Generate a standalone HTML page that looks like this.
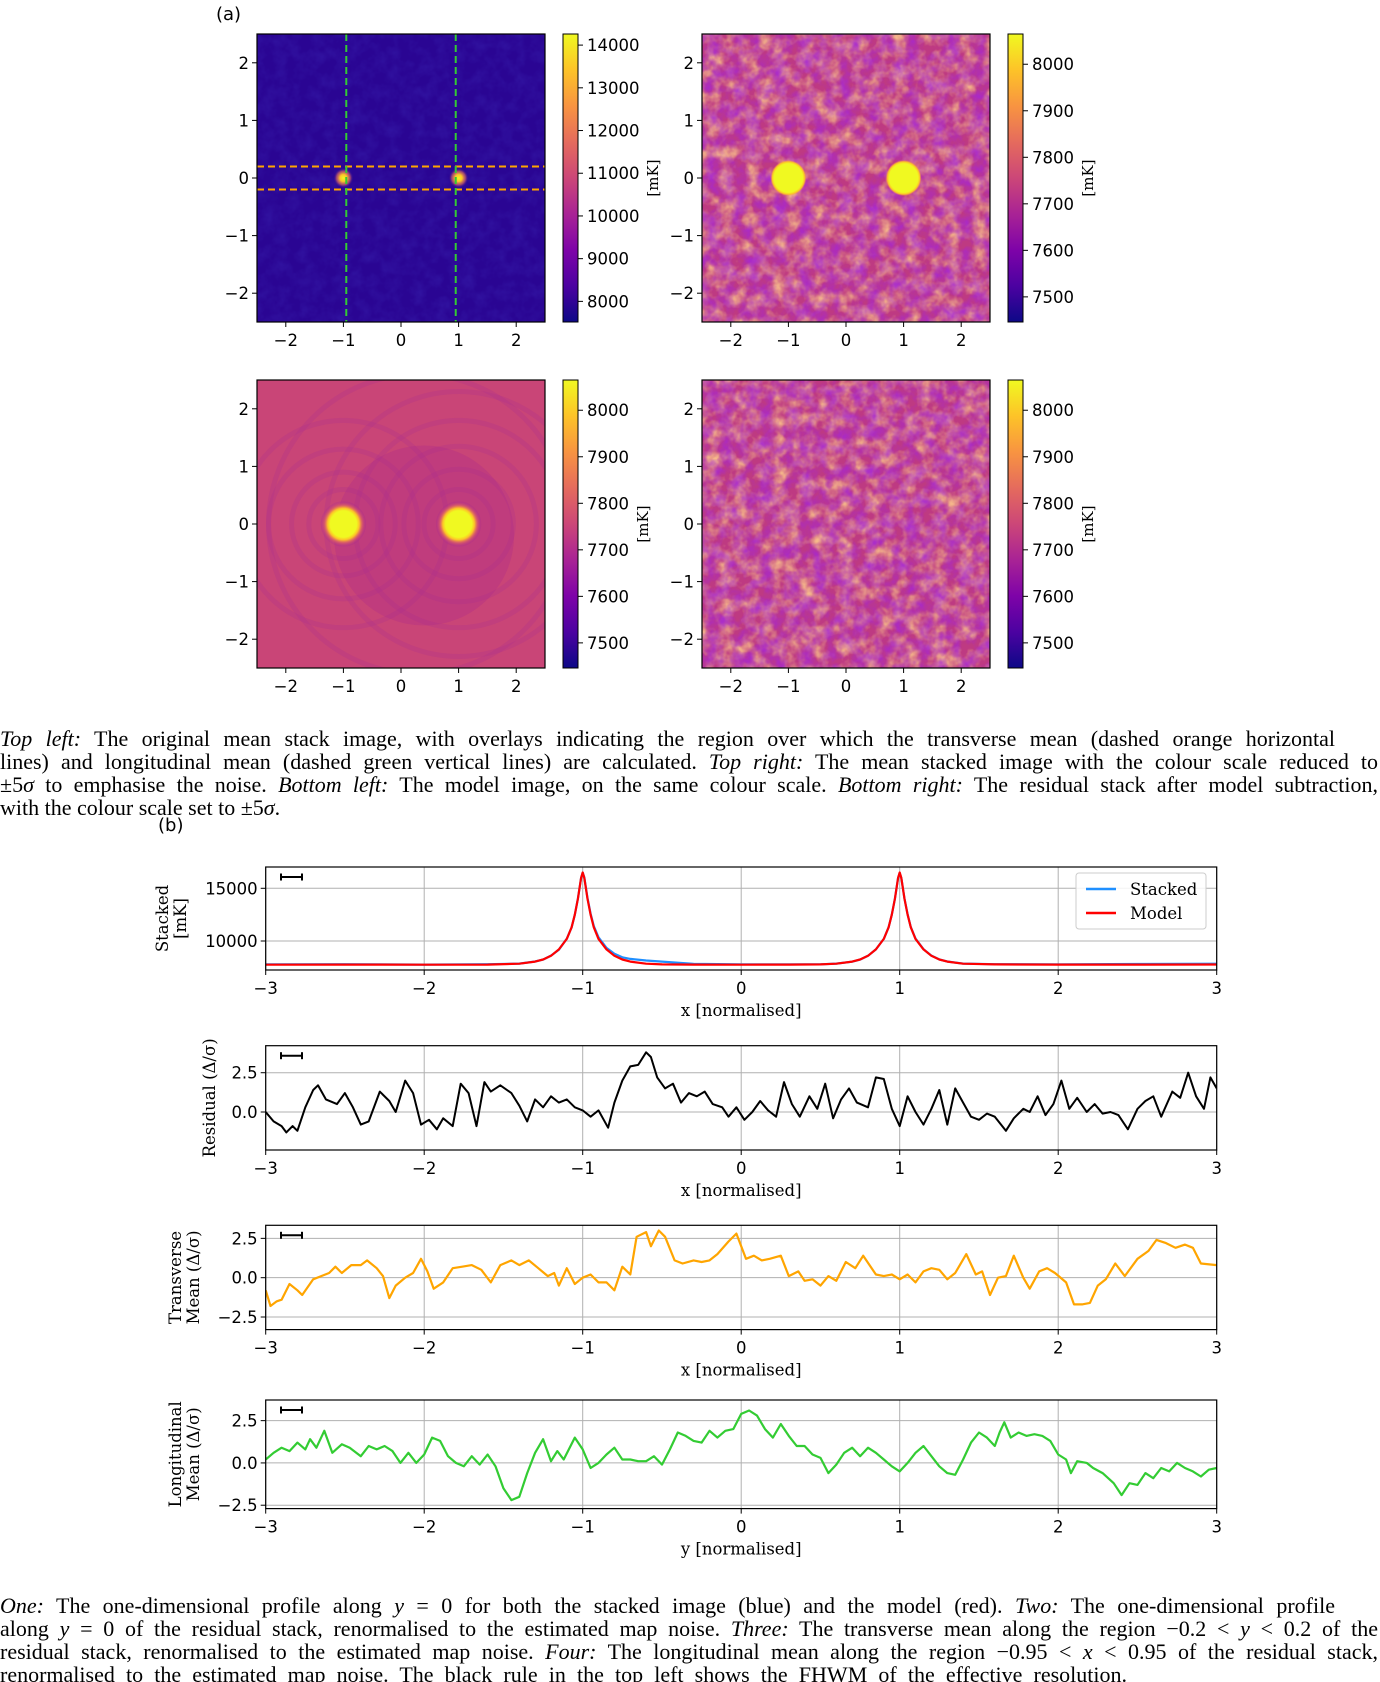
<!DOCTYPE html>
<html><head><meta charset="utf-8">
<style>
html,body{margin:0;padding:0;background:#fff;}
#wrap{position:relative;width:1380px;height:1682px;overflow:hidden;}
svg{position:absolute;left:0;top:0;}
.cap{position:absolute;left:0;width:1380px;font-family:"Liberation Serif",serif;font-size:22px;line-height:23px;color:#000;}
.ln{display:block;white-space:nowrap;height:23px;}
.ln span.inner{display:inline-block;white-space:nowrap;}
i{font-style:italic;}
</style></head>
<body>
<div id="wrap">
<svg id="fig" width="1380" height="1682" viewBox="0 0 1380 1682" xmlns="http://www.w3.org/2000/svg">
<defs>
<linearGradient id="plasma" x1="0" y1="1" x2="0" y2="0">
<stop offset="0" stop-color="#0d0887"/><stop offset="0.125" stop-color="#4c02a1"/><stop offset="0.25" stop-color="#7e03a8"/><stop offset="0.375" stop-color="#a92395"/><stop offset="0.5" stop-color="#cc4778"/><stop offset="0.625" stop-color="#e56b5d"/><stop offset="0.75" stop-color="#f89441"/><stop offset="0.875" stop-color="#fdc328"/><stop offset="1" stop-color="#f0f921"/>
</linearGradient>
<radialGradient id="spotSmall"><stop offset="0" stop-color="#f0f921"/><stop offset="0.35" stop-color="#fdc328"/><stop offset="0.7" stop-color="#e56b5d" stop-opacity="0.6"/><stop offset="1" stop-color="#2c0594" stop-opacity="0"/></radialGradient>
<radialGradient id="spotBig"><stop offset="0" stop-color="#f0f921"/><stop offset="0.8" stop-color="#f0f921"/><stop offset="0.9" stop-color="#fdc328"/><stop offset="1" stop-color="#f89441" stop-opacity="0"/></radialGradient>
<radialGradient id="spotModel"><stop offset="0" stop-color="#f0f921"/><stop offset="0.6" stop-color="#f0f921"/><stop offset="0.72" stop-color="#fdc328"/><stop offset="0.85" stop-color="#e56b5d" stop-opacity="0.7"/><stop offset="1" stop-color="#cc4778" stop-opacity="0"/></radialGradient>
<filter id="mottleDark" x="0" y="0" width="100%" height="100%">
<feTurbulence type="fractalNoise" baseFrequency="0.08" numOctaves="3" seed="4"/>
<feColorMatrix type="matrix" values="0 0 0 0 0.05  0 0 0 0 0.03  0 0 0 0 0.5  1.6 0 0 0 -0.55"/>
</filter>
<filter id="mottlePurple" x="0" y="0" width="100%" height="100%">
<feTurbulence type="fractalNoise" baseFrequency="0.075" numOctaves="3" seed="4"/>
<feColorMatrix type="matrix" values="0 0 0 0 0.38  0 0 0 0 0.02  0 0 0 0 0.66  1.9 0 0 0 -0.65"/>
</filter>
<filter id="mottleOrange" x="0" y="0" width="100%" height="100%">
<feTurbulence type="fractalNoise" baseFrequency="0.075" numOctaves="3" seed="11"/>
<feColorMatrix type="matrix" values="0 0 0 0 0.98  0 0 0 0 0.58  0 0 0 0 0.26  0 1.9 0 0 -0.65"/>
</filter>
</defs>
</svg>

<div class="cap" style="top:727px">
<span class="ln" data-w="1335"><span class="inner"><i>Top left:</i> The original mean stack image, with overlays indicating the region over which the transverse mean (dashed orange horizontal</span></span>
<span class="ln" data-w="1378"><span class="inner">lines) and longitudinal mean (dashed green vertical lines) are calculated. <i>Top right:</i> The mean stacked image with the colour scale reduced to</span></span>
<span class="ln" data-w="1378"><span class="inner">±5<i>σ</i> to emphasise the noise. <i>Bottom left:</i> The model image, on the same colour scale. <i>Bottom right:</i> The residual stack after model subtraction,</span></span>
<span class="ln" data-w="0"><span class="inner">with the colour scale set to ±5<i>σ</i>.</span></span>
</div>

<div class="cap" style="top:1594px">
<span class="ln" data-w="1335"><span class="inner"><i>One:</i> The one-dimensional profile along <i>y</i> = 0 for both the stacked image (blue) and the model (red). <i>Two:</i> The one-dimensional profile</span></span>
<span class="ln" data-w="1378"><span class="inner">along <i>y</i> = 0 of the residual stack, renormalised to the estimated map noise. <i>Three:</i> The transverse mean along the region −0.2 &lt; <i>y</i> &lt; 0.2 of the</span></span>
<span class="ln" data-w="1378"><span class="inner">residual stack, renormalised to the estimated map noise. <i>Four:</i> The longitudinal mean along the region −0.95 &lt; <i>x</i> &lt; 0.95 of the residual stack,</span></span>
<span class="ln" data-w="1127"><span class="inner">renormalised to the estimated map noise. The black rule in the top left shows the FHWM of the effective resolution.</span></span>
</div>
</div>

<script>
// ---------- data ----------
const heatTicks = [-2, -1, 0, 1, 2];
const heatTickLabels = ["−2", "−1", "0", "1", "2"];
const cbarTicksTL = [8000, 9000, 10000, 11000, 12000, 13000, 14000];
const cbarTicksSigma = [7500, 7600, 7700, 7800, 7900, 8000];
const sourcePositions = [-1, 1];
const transverseBand = [-0.2, 0.2];
const longitudinalBand = [-0.95, 0.95];

const profXTicks = [-3, -2, -1, 0, 1, 2, 3];
const profXTickLabels = ["−3", "−2", "−1", "0", "1", "2", "3"];

const stackedX = [-3,-2.5,-2,-1.6,
  -1.4,-1.3,-1.25,-1.2,-1.15,-1.1,-1.07,-1.05,-1.03,-1.01,-1.0,-0.99,-0.97,-0.95,-0.93,-0.9,-0.85,-0.8,-0.75,-0.7,-0.6,
  -0.5,-0.3,0,0.3,0.5,
  0.6,0.7,0.75,0.8,0.85,0.9,0.93,0.95,0.97,0.99,1.0,1.01,1.03,1.05,1.07,1.1,1.15,1.2,1.25,1.3,1.4,
  1.6,2,2.5,3];
const modelValues = [7750,7760,7750,7760,
  7850,8050,8250,8600,9200,10200,11300,12500,14000,16000,16500,16000,14000,12500,11300,10200,9200,8600,8250,8050,7850,
  7780,7760,7750,7760,7780,
  7850,8050,8250,8600,9200,10200,11300,12500,14000,16000,16500,16000,14000,12500,11300,10200,9200,8600,8250,8050,7850,
  7780,7760,7760,7770];
const stackedValues = [7790,7800,7760,7800,
  7860,8060,8240,8620,9180,10220,11280,12480,14020,15980,16480,16050,14080,12600,11420,10350,9350,8800,8450,8300,8150,
  8050,7830,7780,7790,7790,
  7860,8040,8240,8600,9200,10200,11300,12500,14000,16000,16450,16000,14000,12550,11320,10230,9220,8620,8260,8060,7860,
  7800,7790,7820,7850];

const residualX = [-3,-2.95,-2.9,-2.87,-2.83,-2.8,-2.75,-2.7,-2.67,-2.62,-2.55,-2.5,-2.45,-2.4,-2.35,-2.28,-2.22,-2.18,-2.12,-2.07,-2.02,-1.97,-1.92,-1.88,-1.82,-1.77,-1.72,-1.67,-1.62,-1.58,-1.52,-1.45,-1.4,-1.35,-1.3,-1.25,-1.2,-1.15,-1.1,-1.05,-1.0,-0.95,-0.9,-0.84,-0.8,-0.75,-0.7,-0.65,-0.6,-0.57,-0.53,-0.48,-0.43,-0.38,-0.33,-0.28,-0.23,-0.18,-0.12,-0.08,-0.03,0.02,0.07,0.12,0.17,0.22,0.27,0.32,0.37,0.43,0.48,0.53,0.58,0.63,0.68,0.73,0.8,0.85,0.9,0.95,1.0,1.05,1.1,1.15,1.2,1.25,1.3,1.35,1.4,1.45,1.5,1.55,1.6,1.67,1.72,1.78,1.82,1.87,1.92,1.97,2.02,2.07,2.12,2.18,2.23,2.28,2.33,2.38,2.44,2.5,2.55,2.6,2.65,2.72,2.77,2.82,2.87,2.92,2.96,3.0];
const residualValues = [0.0,-0.6,-0.9,-1.3,-0.9,-1.2,0.3,1.4,1.7,0.8,0.5,1.2,0.3,-0.8,-0.6,1.3,0.7,0.0,2.0,1.2,-0.8,-0.5,-1.1,-0.4,-0.9,1.8,1.2,-0.9,1.9,1.3,1.7,1.2,0.4,-0.6,0.8,0.3,1.0,0.6,0.8,0.3,0.1,-0.3,0.1,-1.0,0.6,2.0,2.9,3.0,3.8,3.5,2.2,1.5,1.8,0.6,1.2,1.0,1.3,0.5,0.3,-0.3,0.3,-0.5,0.0,0.7,0.1,-0.3,1.9,0.5,-0.3,1.0,0.2,1.8,-0.4,0.8,1.5,0.6,0.3,2.2,2.1,0.2,-0.9,1.0,0.0,-0.8,0.2,1.4,-0.8,1.5,0.6,-0.3,-0.5,-0.1,-0.3,-1.2,-0.4,0.2,0.0,1.0,-0.2,0.5,2.0,0.2,0.9,0.0,0.5,-0.1,0.0,-0.2,-1.1,0.2,0.7,1.0,-0.3,1.3,0.9,2.5,1.0,0.2,2.2,1.5];

const transverseX = [-3,-2.97,-2.93,-2.9,-2.85,-2.8,-2.77,-2.7,-2.65,-2.6,-2.56,-2.52,-2.46,-2.4,-2.36,-2.3,-2.26,-2.22,-2.18,-2.12,-2.07,-2.02,-1.98,-1.94,-1.88,-1.82,-1.76,-1.7,-1.64,-1.58,-1.52,-1.45,-1.4,-1.34,-1.28,-1.22,-1.18,-1.15,-1.1,-1.05,-1.0,-0.95,-0.9,-0.85,-0.8,-0.75,-0.7,-0.66,-0.6,-0.57,-0.52,-0.48,-0.42,-0.37,-0.3,-0.25,-0.2,-0.15,-0.08,-0.03,0.03,0.08,0.13,0.18,0.25,0.3,0.36,0.4,0.45,0.5,0.55,0.6,0.66,0.72,0.77,0.85,0.9,0.95,1.0,1.05,1.1,1.15,1.2,1.25,1.3,1.35,1.42,1.48,1.52,1.57,1.62,1.67,1.72,1.78,1.82,1.88,1.93,1.98,2.05,2.1,2.15,2.2,2.25,2.3,2.36,2.42,2.5,2.57,2.62,2.68,2.74,2.8,2.85,2.9,3.0];
const transverseValues = [-0.8,-1.8,-1.5,-1.4,-0.4,-0.8,-1.1,-0.1,0.1,0.3,0.7,0.3,0.8,0.8,1.1,0.6,0.1,-1.3,-0.5,0.0,0.3,1.2,0.4,-0.7,-0.3,0.6,0.7,0.8,0.5,-0.3,0.8,1.1,0.8,1.1,0.6,0.1,0.3,-0.5,0.6,-0.4,0.0,0.2,-0.3,-0.3,-0.8,0.7,0.2,2.6,2.9,2.0,3.0,2.6,1.1,0.9,1.1,1.0,1.1,1.5,2.3,2.8,1.2,1.4,1.1,1.2,1.4,0.1,0.4,-0.2,-0.1,-0.5,0.1,-0.2,1.0,0.6,1.4,0.2,0.1,0.2,-0.1,0.2,-0.3,0.4,0.6,0.5,-0.1,0.3,1.5,0.2,0.4,-1.1,0.0,0.1,1.4,0.0,-0.7,0.4,0.6,0.3,-0.3,-1.7,-1.7,-1.6,-0.5,-0.1,0.9,0.1,1.2,1.7,2.4,2.2,1.9,2.1,1.9,0.9,0.8];

const longitudinalX = [-3,-2.95,-2.9,-2.85,-2.8,-2.75,-2.72,-2.68,-2.63,-2.58,-2.52,-2.47,-2.4,-2.35,-2.3,-2.25,-2.2,-2.15,-2.1,-2.05,-2.0,-1.95,-1.9,-1.85,-1.8,-1.75,-1.7,-1.65,-1.6,-1.55,-1.5,-1.45,-1.4,-1.35,-1.3,-1.25,-1.2,-1.16,-1.12,-1.05,-1.0,-0.95,-0.9,-0.85,-0.8,-0.75,-0.7,-0.65,-0.6,-0.55,-0.5,-0.45,-0.4,-0.35,-0.3,-0.25,-0.2,-0.15,-0.1,-0.05,0.0,0.05,0.1,0.15,0.2,0.25,0.3,0.35,0.4,0.45,0.5,0.55,0.6,0.65,0.7,0.75,0.8,0.85,0.9,0.95,1.0,1.05,1.1,1.15,1.2,1.25,1.3,1.35,1.4,1.45,1.5,1.55,1.6,1.63,1.66,1.7,1.75,1.8,1.85,1.9,1.95,2.0,2.05,2.08,2.12,2.18,2.22,2.28,2.35,2.4,2.45,2.5,2.55,2.6,2.65,2.7,2.75,2.8,2.85,2.9,2.95,3.0];
const longitudinalValues = [0.2,0.6,0.9,0.7,1.2,0.8,1.4,0.9,1.9,0.6,1.1,0.9,0.4,1.0,0.8,1.0,0.7,0.0,0.6,0.0,0.5,1.5,1.3,0.4,0.0,-0.2,0.4,-0.1,0.5,-0.2,-1.5,-2.2,-2.0,-0.6,0.6,1.4,0.1,0.7,0.2,1.5,0.8,-0.3,0.0,0.5,0.9,0.2,0.2,0.1,0.1,0.4,-0.1,0.8,1.8,1.6,1.3,1.2,1.9,1.5,1.9,2.0,2.9,3.1,2.8,2.0,1.5,2.3,1.6,1.0,1.0,0.5,0.3,-0.6,-0.1,0.6,0.9,0.4,0.9,0.6,0.2,-0.2,-0.5,0.0,0.6,1.0,0.4,-0.2,-0.6,-0.7,0.2,1.2,1.8,1.5,1.0,1.8,2.4,1.5,1.8,1.6,1.7,1.6,1.3,0.5,0.2,-0.6,0.1,0.0,-0.3,-0.6,-1.2,-1.9,-1.2,-1.3,-0.6,-0.9,-0.3,-0.5,0.0,-0.3,-0.5,-0.8,-0.4,-0.3];

// ---------- caption fitting ----------
document.querySelectorAll('.ln').forEach(ln => {
  const target = +ln.getAttribute('data-w');
  if (!target) return;
  const inner = ln.querySelector('.inner');
  const w = inner.getBoundingClientRect().width;
  const spaces = (inner.textContent.match(/ /g) || []).length;
  if (spaces > 0) inner.style.wordSpacing = Math.max(-2.5, (target - w) / spaces) + 'px';
});

// ---------- helpers ----------
const NS = "http://www.w3.org/2000/svg";
const svg = document.getElementById('fig');
function mk(tag, attrs, parent) {
  const el = document.createElementNS(NS, tag);
  for (const k in attrs) el.setAttribute(k, attrs[k]);
  (parent || svg).appendChild(el);
  return el;
}
function txt(str, attrs, parent) {
  const el = mk('text', attrs, parent);
  el.textContent = str;
  return el;
}
const SANS = '"DejaVu Sans","Liberation Sans",sans-serif';
const SERIF = '"DejaVu Serif","Liberation Serif",serif';

// ---------- heatmap panels ----------
const HS = 288;
function heatPanel(left, top, kind, name) {
  const g = mk('g', {});
  
  
  const hx = v => left + (v + 2.5) / 5 * HS;
  const hy = v => top + (2.5 - v) / 5 * HS;
  const clip = mk('clipPath', {id: 'clip-' + name}, g);
  mk('rect', {x: left, y: top, width: HS, height: HS}, clip);
  const img = mk('g', {'clip-path': 'url(#clip-' + name + ')'}, g);
  
  
  if (kind === 'orig') {
    mk('rect', {x: left, y: top, width: HS, height: HS, fill: '#2a0593'}, img);
    mk('rect', {x: left, y: top, width: HS, height: HS, filter: 'url(#mottleDark)', opacity: 0.35}, img);
    sourcePositions.forEach(p => {
      const s = mk('circle', {cx: hx(p), cy: hy(0), r: 10, fill: 'url(#spotSmall)'}, img);
      
      
    });
  } else if (kind === 'noise') {
    mk('rect', {x: left, y: top, width: HS, height: HS, fill: '#be3a82'}, img);
    mk('rect', {x: left, y: top, width: HS, height: HS, filter: 'url(#mottleOrange)', opacity: 0.9}, img);
    mk('rect', {x: left, y: top, width: HS, height: HS, filter: 'url(#mottlePurple)', opacity: 0.85}, img);
    if (name !== 'residual-image') {
      sourcePositions.forEach(p => {
        const s = mk('circle', {cx: hx(p), cy: hy(0), r: 18, fill: 'url(#spotBig)'}, img);
        
        
      });
    }
  } else {
    mk('rect', {x: left, y: top, width: HS, height: HS, fill: '#c94577'}, img);
    const rings = [[-1, 0.35],[-1, 0.6],[-1, 0.9],[1, 0.35],[1, 0.6],[1,0.95],[1,1.35],[1,1.8],[1,2.3],[-1,1.3],[-1,1.8],[0.3,2.6]];
    rings.forEach(r => mk('circle', {cx: hx(r[0]), cy: hy(0), r: r[1] / 5 * HS, fill: 'none', stroke: '#b0338a', 'stroke-width': 5, opacity: 0.3}, img));
    mk('circle', {cx: hx(0.4), cy: hy(-0.2), r: 90, fill: '#a8258f', opacity: 0.25}, img);
    sourcePositions.forEach(p => {
      const s = mk('circle', {cx: hx(p), cy: hy(0), r: 22, fill: 'url(#spotModel)'}, img);
      
      
    });
  }
  if (kind === 'orig') {
    transverseBand.forEach(b => {
      const l = mk('line', {x1: left, x2: left + HS, y1: hy(b), y2: hy(b), stroke: '#ffa500', 'stroke-width': 2, 'stroke-dasharray': '7,4'}, g);
      
      
    });
    longitudinalBand.forEach(b => {
      const l = mk('line', {x1: hx(b), x2: hx(b), y1: top, y2: top + HS, stroke: '#33cc33', 'stroke-width': 2, 'stroke-dasharray': '7,4'}, g);
      
      
    });
  }
  mk('rect', {x: left, y: top, width: HS, height: HS, fill: 'none', stroke: '#000', 'stroke-width': 1.2}, g);
  heatTicks.forEach((t, i) => {
    mk('line', {x1: hx(t), x2: hx(t), y1: top + HS, y2: top + HS + 5, stroke: '#000'}, g);
    const xl = txt(heatTickLabels[i], {x: hx(t), y: top + HS + 24, 'text-anchor': 'middle', 'font-family': SANS, 'font-size': 16.5}, g);
    
    
    mk('line', {x1: left - 5, x2: left, y1: hy(t), y2: hy(t), stroke: '#000'}, g);
    const yl = txt(heatTickLabels[i], {x: left - 8, y: hy(t) + 6, 'text-anchor': 'end', 'font-family': SANS, 'font-size': 16.5}, g);
    
    
  });
}
function colorbar(left, top, vmin, vmax, ticks, name) {
  const g = mk('g', {});
  
  
  const W = 15;
  const cy = v => top + HS - (v - vmin) / (vmax - vmin) * HS;
  mk('rect', {x: left, y: top, width: W, height: HS, fill: 'url(#plasma)', stroke: '#000', 'stroke-width': 1}, g);
  ticks.forEach(t => {
    mk('line', {x1: left + W, x2: left + W + 5, y1: cy(t), y2: cy(t), stroke: '#000'}, g);
    const l = txt(String(t), {x: left + W + 9, y: cy(t) + 6, 'font-family': SANS, 'font-size': 16.5}, g);
    
    
  });
  const off = ticks[ticks.length - 1] >= 10000 ? 80 : 70;
  const u = txt('[mK]', {x: 0, y: 0, 'font-family': SERIF, 'font-size': 15, 'text-anchor': 'middle', transform: `translate(${left + W + off},${top + HS / 2}) rotate(-90)`}, g);
  
  
}

heatPanel(257, 34, 'orig', 'original-stack-image');
colorbar(563, 34, 7517, 14260, cbarTicksTL, 'original-colorbar');
heatPanel(702, 34, 'noise', 'stack-sigma-image');
colorbar(1008, 34, 7446, 8065, cbarTicksSigma, 'stack-sigma-colorbar');
heatPanel(257, 380, 'model', 'model-image');
colorbar(563, 380, 7446, 8065, cbarTicksSigma, 'model-colorbar');
heatPanel(702, 380, 'noise', 'residual-image');
colorbar(1008, 380, 7446, 8065, cbarTicksSigma, 'residual-colorbar');

const la = txt('(a)', {x: 216, y: 20, 'font-family': SANS, 'font-size': 18});


const lb = txt('(b)', {x: 158, y: 831, 'font-family': SANS, 'font-size': 18});



// ---------- profile panels ----------
const PL = 265.7, PR = 1216.7;
const PX = v => PL + (v + 3) / 6 * (PR - PL);
function profPanel(top, bottom, ymin, ymax, yticks, yticksLbl, ylabelLines, ylabelX, xlabel, name) {
  const g = mk('g', {});
  
  
  const Y = v => bottom - (v - ymin) / (ymax - ymin) * (bottom - top);
  profXTicks.forEach((t, i) => {
    const gl = mk('line', {x1: PX(t), x2: PX(t), y1: top, y2: bottom, stroke: '#b0b0b0', 'stroke-width': 1}, g);
    
    
    mk('line', {x1: PX(t), x2: PX(t), y1: bottom, y2: bottom + 5, stroke: '#000'}, g);
    const l = txt(profXTickLabels[i], {x: PX(t), y: bottom + 24, 'text-anchor': 'middle', 'font-family': SANS, 'font-size': 16.5}, g);
    
    
  });
  yticks.forEach((t, i) => {
    const gl = mk('line', {x1: PL, x2: PR, y1: Y(t), y2: Y(t), stroke: '#b0b0b0', 'stroke-width': 1}, g);
    
    
    mk('line', {x1: PL - 5, x2: PL, y1: Y(t), y2: Y(t), stroke: '#000'}, g);
    const l = txt(yticksLbl[i], {x: PL - 8, y: Y(t) + 6, 'text-anchor': 'end', 'font-family': SANS, 'font-size': 16.5}, g);
    
    
  });
  const xl = txt(xlabel, {x: (PL + PR) / 2, y: bottom + 46, 'text-anchor': 'middle', 'font-family': SERIF, 'font-size': 16.5}, g);
  
  
  ylabelLines.forEach((s, i) => {
    const yl = txt(s, {x: 0, y: 0, 'text-anchor': 'middle', 'font-family': SERIF, 'font-size': 16.5, transform: `translate(${ylabelX + i * 18},${(top + bottom) / 2}) rotate(-90)`}, g);
    
    
  });
  return {g, Y, top, bottom};
}
function series(p, xs, vs, color, name, width) {
  const clipId = 'clip-' + name;
  const c = mk('clipPath', {id: clipId}, p.g);
  mk('rect', {x: PL, y: p.top, width: PR - PL, height: p.bottom - p.top}, c);
  const d = xs.map((x, i) => (i ? 'L' : 'M') + PX(x).toFixed(1) + ',' + p.Y(vs[i]).toFixed(1)).join('');
  const path = mk('path', {d, fill: 'none', stroke: color, 'stroke-width': width || 2.2, 'stroke-linejoin': 'round', 'clip-path': `url(#${clipId})`}, p.g);
  
  
  return path;
}
function frame(p) {
  mk('rect', {x: PL, y: p.top, width: PR - PL, height: p.bottom - p.top, fill: 'none', stroke: '#000', 'stroke-width': 1.2}, p.g);
  const r = mk('g', {}, p.g);
  
  
  const ry = p.top + 10;
  mk('line', {x1: 281, x2: 302, y1: ry, y2: ry, stroke: '#000', 'stroke-width': 2}, r);
  mk('line', {x1: 281, x2: 281, y1: ry - 3.5, y2: ry + 3.5, stroke: '#000', 'stroke-width': 2}, r);
  mk('line', {x1: 302, x2: 302, y1: ry - 3.5, y2: ry + 3.5, stroke: '#000', 'stroke-width': 2}, r);
}

const p1 = profPanel(867, 970, 7250, 17020, [10000, 15000], ["10000", "15000"], ["Stacked", "[mK]"], 168, 'x [normalised]', 'stacked-profile-chart');
series(p1, stackedX, stackedValues, '#1f8fff', 'stacked-line');
series(p1, stackedX, modelValues, '#ff0000', 'model-line');
frame(p1);
const leg = mk('g', {}, p1.g);


mk('rect', {x: 1076, y: 873, width: 130, height: 56, rx: 3, fill: '#fff', 'fill-opacity': 0.85, stroke: '#ccc'}, leg);
const le1 = mk('line', {x1: 1086, x2: 1116, y1: 889, y2: 889, stroke: '#1f8fff', 'stroke-width': 2.5}, leg);


txt('Stacked', {x: 1130, y: 895, 'font-family': SERIF, 'font-size': 16.5}, leg);
const le2 = mk('line', {x1: 1086, x2: 1116, y1: 913, y2: 913, stroke: '#ff0000', 'stroke-width': 2.5}, leg);


txt('Model', {x: 1130, y: 919, 'font-family': SERIF, 'font-size': 16.5}, leg);

const p2 = profPanel(1045.7, 1150, -2.42, 4.22, [0, 2.5], ["0.0", "2.5"], ["Residual (Δ/σ)"], 215, 'x [normalised]', 'residual-profile-chart');
series(p2, residualX, residualValues, '#000000', 'residual-line', 2);
frame(p2);

const p3 = profPanel(1225.3, 1329.6, -3.3, 3.33, [-2.5, 0, 2.5], ["−2.5", "0.0", "2.5"], ["Transverse", "Mean (Δ/σ)"], 181, 'x [normalised]', 'transverse-mean-chart');
series(p3, transverseX, transverseValues, '#ffa500', 'transverse-line');
frame(p3);

const p4 = profPanel(1400, 1508.6, -2.7, 3.72, [-2.5, 0, 2.5], ["−2.5", "0.0", "2.5"], ["Longitudinal", "Mean (Δ/σ)"], 181, 'y [normalised]', 'longitudinal-mean-chart');
series(p4, longitudinalX, longitudinalValues, '#33cc33', 'longitudinal-line');
frame(p4);
</script>
</body></html>
